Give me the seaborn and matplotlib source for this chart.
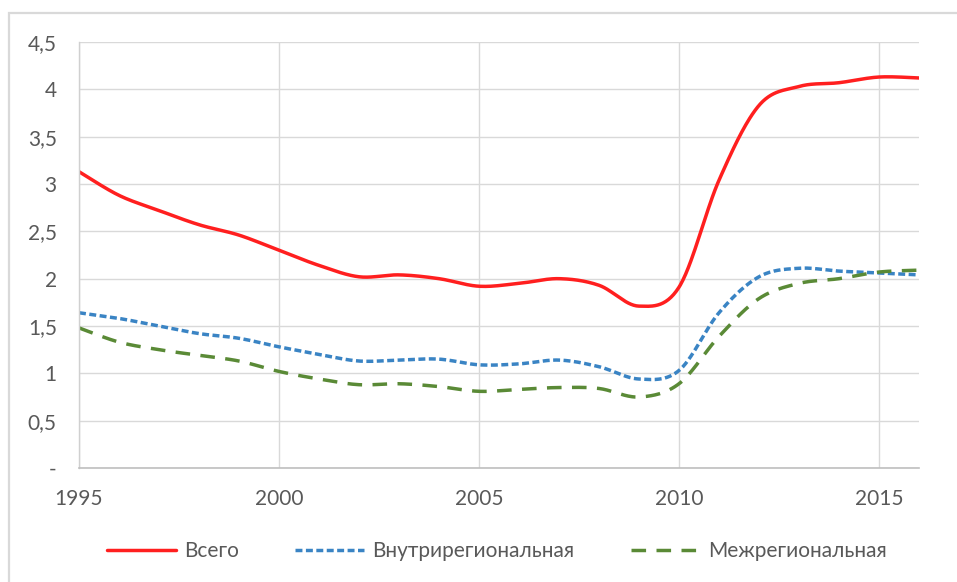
import numpy as np
import pandas as pd
import matplotlib
matplotlib.use("Agg")
import matplotlib.pyplot as plt
import seaborn as sns
from matplotlib.patches import Rectangle

years = [1995, 1996, 1997, 1998, 1999, 2000, 2001, 2002, 2003, 2004, 2005,
         2006, 2007, 2008, 2009, 2010, 2011, 2012, 2013, 2014, 2015, 2016]
total = [3.13, 2.88, 2.72, 2.57, 2.46, 2.30, 2.14, 2.02, 2.04, 2.00, 1.92,
         1.95, 2.00, 1.93, 1.71, 1.91, 3.04, 3.83, 4.03, 4.07, 4.13, 4.12]
intra = [1.64, 1.58, 1.50, 1.42, 1.37, 1.28, 1.20, 1.13, 1.14, 1.15, 1.09,
         1.10, 1.14, 1.07, 0.94, 1.03, 1.64, 2.02, 2.11, 2.08, 2.06, 2.04]
inter = [1.48, 1.33, 1.25, 1.19, 1.13, 1.02, 0.94, 0.88, 0.89, 0.86, 0.81,
         0.83, 0.85, 0.84, 0.75, 0.89, 1.39, 1.79, 1.95, 2.00, 2.07, 2.09]
series_names = ["Всего", "Внутрирегиональная", "Межрегиональная"]
y_ticks = [0, 0.5, 1, 1.5, 2, 2.5, 3, 3.5, 4, 4.5]
y_labels = ["-", "0,5", "1", "1,5", "2", "2,5", "3", "3,5", "4", "4,5"]
x_ticks = [1995, 2000, 2005, 2010, 2015]


def smooth(xs, ys, n=30):
    """Excel-like smoothed line (Catmull-Rom / Bezier with 1/6 tension)."""
    xs = np.asarray(xs, float)
    ys = np.asarray(ys, float)
    px = np.concatenate([[xs[0]], xs, [xs[-1]]])
    py = np.concatenate([[ys[0]], ys, [ys[-1]]])
    ox, oy = [], []
    t = np.linspace(0, 1, n, endpoint=False)
    for i in range(1, len(px) - 2):
        p0 = np.array([px[i], py[i]])
        p3 = np.array([px[i + 1], py[i + 1]])
        c1 = p0 + (np.array([px[i + 1], py[i + 1]]) - np.array([px[i - 1], py[i - 1]])) / 6
        c2 = p3 - (np.array([px[i + 2], py[i + 2]]) - np.array([px[i], py[i]])) / 6
        b = ((1 - t) ** 3)[:, None] * p0 + (3 * (1 - t) ** 2 * t)[:, None] * c1 + \
            (3 * (1 - t) * t ** 2)[:, None] * c2 + (t ** 3)[:, None] * p3
        ox.extend(b[:, 0]); oy.extend(b[:, 1])
    ox.append(xs[-1]); oy.append(ys[-1])
    return np.array(ox), np.array(oy)


sns.set_theme(style="white")
plt.rcParams["font.family"] = ["Lato", "DejaVu Sans"]

fig = plt.figure(figsize=(9.57, 5.82), dpi=100)
W, H = 957, 582
ax = fig.add_axes([79 / W, (H - 468) / H, (919 - 79) / W, (468 - 42) / H])

# chart-area border (top and left visible)
fig.patches.append(Rectangle((9 / W, -0.1), 1.2, (H - 13) / H + 0.1, transform=fig.transFigure,
                             fill=False, edgecolor="#d9d9d9", linewidth=1.6, zorder=0))

colors = ["#ff1f1f", "#3a84c4", "#5a8a36"]
styles = [(None, None), (0, (2.0, 1.0)), (0, (4.2, 3.0))]
frames = []
for name, vals in zip(series_names, [total, intra, inter]):
    sx, sy = smooth(years, vals)
    frames.append(pd.DataFrame({"year": sx, "value": sy, "series": name}))
df = pd.concat(frames, ignore_index=True)

for name, col, ls in zip(series_names, colors, styles):
    sub = df[df["series"] == name]
    kw = {}
    if ls[0] is not None:
        kw["linestyle"] = ls
    sns.lineplot(data=sub, x="year", y="value", ax=ax, color=col, linewidth=2.5,
                 label=name, sort=False, estimator=None, **kw)

ax.set_xlim(1995, 2016)
ax.set_ylim(0, 4.5)
ax.set_xticks(x_ticks)
ax.set_xticklabels([str(v) for v in x_ticks])
ax.set_yticks(y_ticks)
ax.set_yticklabels(y_labels)
ax.set_xlabel("")
ax.set_ylabel("")
ax.grid(True, color="#d9d9d9", linewidth=1.0)
ax.set_axisbelow(True)
for s in ["top", "right"]:
    ax.spines[s].set_visible(False)
ax.spines["left"].set_color("#d0d0d0")
ax.spines["bottom"].set_color("#bfbfbf")
ax.spines["left"].set_linewidth(1.0)
ax.spines["bottom"].set_linewidth(1.2)
ax.tick_params(axis="both", length=0, labelsize=15, labelcolor="#595959")
ax.tick_params(axis="x", pad=15)
ax.tick_params(axis="y", pad=16)

leg = ax.legend(loc="center", bbox_to_anchor=(497 / W, (H - 551) / H),
                bbox_transform=fig.transFigure, ncol=3, frameon=False,
                fontsize=15, handlelength=3.3, handletextpad=0.4, columnspacing=2.7)
for t in leg.get_texts():
    t.set_color("#595959")

fig.savefig("out.png", dpi=100)
